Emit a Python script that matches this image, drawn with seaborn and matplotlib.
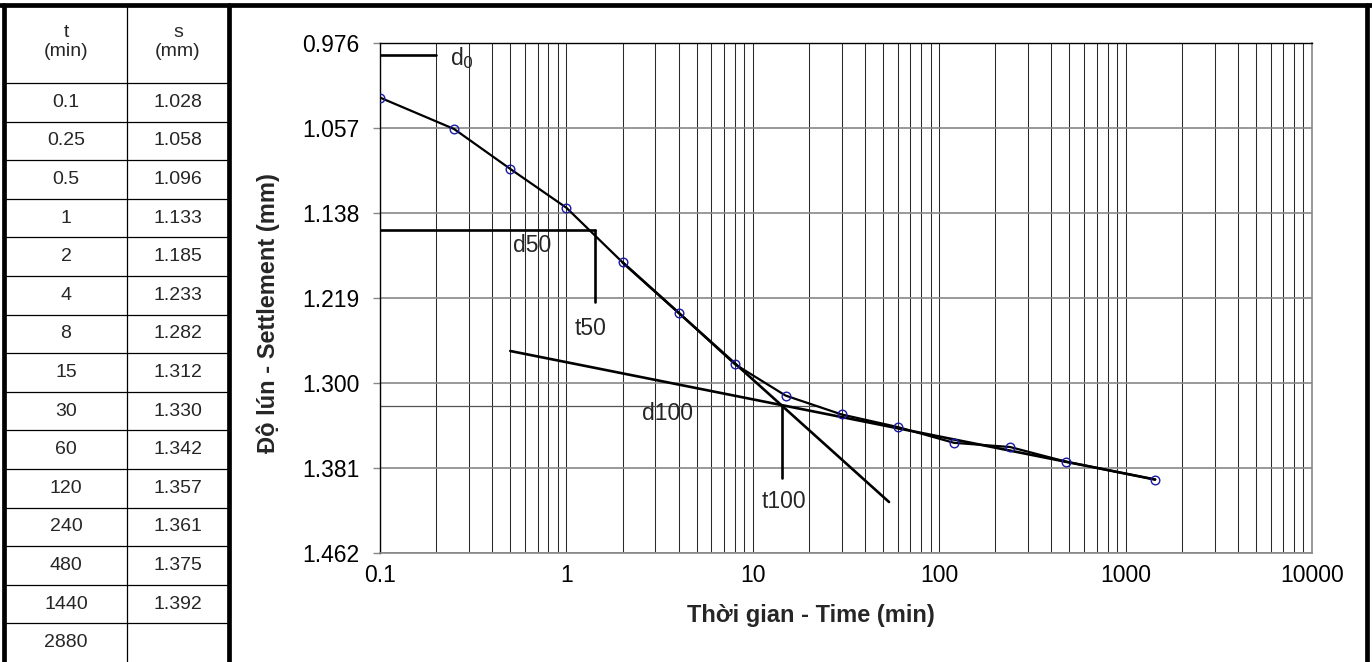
import seaborn as sns
import matplotlib.pyplot as plt
from matplotlib.ticker import LogLocator, FixedLocator, FixedFormatter, NullFormatter

time_min = [0.1, 0.25, 0.5, 1, 2, 4, 8, 15, 30, 60, 120, 240, 480, 1440]
settle_mm = [1.028, 1.058, 1.096, 1.133, 1.185, 1.233, 1.282, 1.312, 1.330,
             1.342, 1.357, 1.361, 1.375, 1.392]
table_t = ['0.1', '0.25', '0.5', '1', '2', '4', '8', '15', '30', '60', '120',
           '240', '480', '1440', '2880']
table_s = ['1.028', '1.058', '1.096', '1.133', '1.185', '1.233', '1.282', '1.312',
           '1.330', '1.342', '1.357', '1.361', '1.375', '1.392', '']

y_ticks = [0.976, 1.057, 1.138, 1.219, 1.300, 1.381, 1.462]
y_tick_labels = ['0.976', '1.057', '1.138', '1.219', '1.300', '1.381', '1.462']
x_ticks = [0.1, 1, 10, 100, 1000, 10000]
x_tick_labels = ['0.1', '1', '10', '100', '1000', '10000']

# Casagrande construction values
d0 = 0.987
d50 = 1.154
d100 = 1.322
t50 = 1.42
t100 = 14.3
primary_t = [2, 53.8]
primary_s = [1.185, 1.4134]
secondary_t = [0.5, 1440]
secondary_s = [1.2695, 1.392]

sns.set_theme(style='white')
plt.rcParams['font.family'] = ['Liberation Sans', 'DejaVu Sans']

W, H = 1372, 662
fig = plt.figure(figsize=(W / 100, H / 100), dpi=100)
ax = fig.add_axes([380 / W, 1 - 553 / H, 932 / W, 510 / H])

ax.set_xscale('log')
ax.set_xlim(0.1, 10000)
ax.set_ylim(1.462, 0.976)

# grid
ax.xaxis.set_major_locator(FixedLocator(x_ticks))
ax.xaxis.set_major_formatter(FixedFormatter(x_tick_labels))
ax.xaxis.set_minor_locator(LogLocator(base=10, subs=range(2, 10), numticks=20))
ax.xaxis.set_minor_formatter(NullFormatter())
ax.set_yticks(y_ticks)
ax.set_yticklabels(y_tick_labels)
ax.grid(True, axis='x', which='both', color='#2a2a2a', linewidth=0.75)
ax.grid(True, axis='y', which='major', color='#888888', linewidth=1.2)
ax.tick_params(axis='x', which='both', length=0, pad=8, labelsize=16.5, colors='black')
ax.tick_params(axis='y', length=5, width=1, color='#888888', pad=10, labelsize=16.5,
               left=True, labelcolor='black')
for side in ['left', 'top']:
    ax.spines[side].set_color('black')
    ax.spines[side].set_linewidth(1)
for side in ['right', 'bottom']:
    ax.spines[side].set_color('#888888')
    ax.spines[side].set_linewidth(1.2)

# construction lines
lw = 1.9
ax.plot([0.1, 0.2], [d0, d0], color='black', lw=lw)
ax.plot([0.1, t50], [d50, d50], color='black', lw=lw)
ax.plot([t50, t50], [d50, 1.223], color='black', lw=lw)
ax.plot([0.1, 22.9], [d100, d100], color='#555555', lw=0.9)
ax.plot([t100, t100], [d100, 1.3906], color='black', lw=lw)
ax.plot(primary_t, primary_s, color='black', lw=lw)
ax.plot(secondary_t, secondary_s, color='black', lw=lw)

# measured curve
sns.lineplot(x=time_min, y=settle_mm, ax=ax, color='black', lw=1.6, marker='o',
             markersize=6.2, markerfacecolor='none', markeredgecolor='#1a1aa6',
             markeredgewidth=1.0, errorbar=None, zorder=5)

fs = 16.5
ax.text(0.237, 0.990, 'd$_0$', fontsize=fs, ha='left', va='center')
ax.text(0.517, 1.1685, 'd50', fontsize=fs, ha='left', va='center')
ax.text(1.11, 1.2476, 't50', fontsize=fs, ha='left', va='center')
ax.text(2.54, 1.3286, 'd100', fontsize=fs, ha='left', va='center')
ax.text(11.2, 1.4134, 't100', fontsize=fs, ha='left', va='center')

ax.set_xlabel('Thời gian - Time (min)', fontsize=17, fontweight='bold')
ax.set_ylabel('Độ lún - Settlement (mm)', fontsize=17, fontweight='bold')
ax.xaxis.set_label_coords(0.4625, -0.1)
ax.yaxis.set_label_coords(-0.107, 0.47)

# overlay for the table and the frame (pixel units)
ov = fig.add_axes([0, 0, 1, 1])
ov.set_xlim(0, W)
ov.set_ylim(H, 0)
ov.axis('off')
ov.patch.set_alpha(0)

header_bottom = 83
row_h = 38.6
col_mid = 127
tab_right = 229
ov.plot([0, W], [5, 5], color='black', lw=3.4)
ov.plot([4, 4], [5, H], color='black', lw=3.4)
ov.plot([tab_right, tab_right], [5, H], color='black', lw=3.4)
ov.plot([1367, 1367], [5, H], color='black', lw=3.4)
ov.plot([col_mid, col_mid], [5, H], color='black', lw=0.9)
ov.text(66, 42, 't\n(min)', fontsize=14, ha='center', va='center', linespacing=1.15)
ov.text(178, 42, 's\n(mm)', fontsize=14, ha='center', va='center', linespacing=1.15)
for i, (tv, sv) in enumerate(zip(table_t, table_s)):
    top = header_bottom + i * row_h
    ov.plot([4, tab_right], [top, top], color='black', lw=0.9)
    ov.text(66, top + row_h / 2, tv, fontsize=14, ha='center', va='center')
    ov.text(178, top + row_h / 2, sv, fontsize=14, ha='center', va='center')

fig.savefig('out.png', dpi=100)
